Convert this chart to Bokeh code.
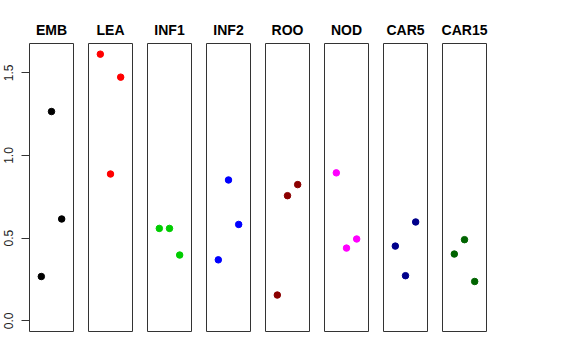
from bokeh.plotting import figure
from bokeh.layouts import row
from bokeh.models import Range1d, LinearAxis, FixedTicker, ColumnDataSource
from bokeh.embed import file_html
from bokeh.resources import INLINE

categories = ["EMB", "LEA", "INF1", "INF2", "ROO", "NOD", "CAR5", "CAR15"]
colors = ["#000000", "#FF0000", "#00CD00", "#0000FF", "#8B0000", "#FF00FF", "#00008B", "#006400"]
replicate = [1, 2, 3]

emb = [0.268, 1.266, 0.616]
lea = [1.613, 0.888, 1.474]
inf1 = [0.559, 0.559, 0.398]
inf2 = [0.369, 0.852, 0.583]
roo = [0.156, 0.757, 0.824]
nod = [0.895, 0.440, 0.495]
car5 = [0.452, 0.273, 0.598]
car15 = [0.404, 0.491, 0.238]
series = [emb, lea, inf1, inf2, roo, nod, car5, car15]

y_ticks = [0.0, 0.5, 1.0, 1.5]
y_tick_labels = ["0.0", "0.5", "1.0", "1.5"]

ymin, ymax = 0.0, max(max(s) for s in series)
pad_y = 0.04 * (ymax - ymin)
xmin, xmax = 0, 4
pad_x = 0.04 * (xmax - xmin)

FONT = "Liberation Sans"
figs = []
for i, (cat, col, vals) in enumerate(zip(categories, colors, series)):
    first = i == 0
    p = figure(
        frame_width=44, frame_height=288,
        min_border_left=29 if first else 8, min_border_right=7,
        min_border_top=43, min_border_bottom=28,
        x_range=Range1d(xmin - pad_x, xmax + pad_x),
        y_range=Range1d(ymin - pad_y, ymax + pad_y),
        x_axis_type=None, y_axis_type=None,
        toolbar_location=None, output_backend="svg",
        title=cat,
    )
    p.title.text_font = FONT
    p.title.text_font_size = "14px"
    p.title.text_font_style = "bold"
    p.title.align = "center"
    p.title.text_color = "black"
    p.title.standoff = 11
    p.xgrid.visible = False
    p.ygrid.visible = False
    p.outline_line_color = "#333333"
    p.outline_line_width = 1
    p.background_fill_color = "white"
    p.border_fill_color = "white"
    src = ColumnDataSource(dict(x=replicate, y=vals))
    p.scatter("x", "y", source=src, size=6.5, color=col, line_color=col)
    if first:
        ax = LinearAxis(
            ticker=FixedTicker(ticks=y_ticks),
            major_label_overrides={t: l for t, l in zip(y_ticks, y_tick_labels)},
        )
        ax.major_label_orientation = "vertical"
        ax.major_label_text_font = FONT
        ax.major_label_text_font_size = "12px"
        ax.major_label_text_color = "#222222"
        ax.major_label_standoff = 8
        ax.major_tick_out = 8
        ax.major_tick_in = 0
        ax.minor_tick_out = 0
        ax.minor_tick_in = 0
        ax.axis_line_color = None
        ax.major_tick_line_color = "#333333"
        p.add_layout(ax, "left")
    figs.append(p)

layout = row(*figs, spacing=0)
open("out.html", "w").write(file_html(layout, INLINE))
